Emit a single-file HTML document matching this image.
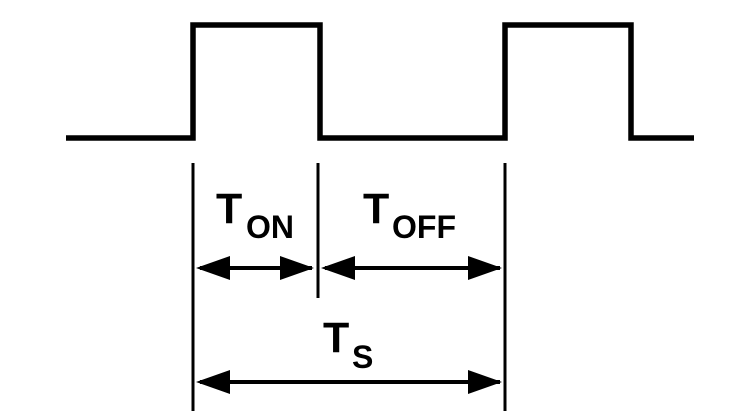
<!DOCTYPE html>
<html><head><meta charset="utf-8"><style>
html,body{margin:0;padding:0;background:#fff;width:752px;height:411px;overflow:hidden}
svg{display:block}
text{font-family:"Liberation Sans",Arial,sans-serif;font-weight:bold;fill:#000}
</style></head><body>
<svg width="752" height="411" viewBox="0 0 752 411">
<polyline fill="none" stroke="#000" stroke-width="5.5" stroke-linejoin="miter"
 points="66,138 193,138 193,25 320,25 320,138 505,138 505,25 631,25 631,138 694,138"/>
<line x1="193" y1="163" x2="193" y2="411" stroke="#000" stroke-width="3"/>
<line x1="318" y1="163" x2="318" y2="298" stroke="#000" stroke-width="3"/>
<line x1="505" y1="163" x2="505" y2="411" stroke="#000" stroke-width="3"/>
<g>
<line x1="200" y1="268" x2="312" y2="268" stroke="#000" stroke-width="4"/>
<polygon points="196,268 230,256 230,280" fill="#000"/>
<polygon points="314,268 280,256 280,280" fill="#000"/>
</g>
<g>
<line x1="325" y1="268" x2="500" y2="268" stroke="#000" stroke-width="4"/>
<polygon points="321,268 355,256 355,280" fill="#000"/>
<polygon points="502,268 468,256 468,280" fill="#000"/>
</g>
<g>
<line x1="200" y1="382" x2="500" y2="382" stroke="#000" stroke-width="4"/>
<polygon points="196,382 230,370 230,394" fill="#000"/>
<polygon points="502,382 468,370 468,394" fill="#000"/>
</g>
<text x="216" y="223" font-size="43">T<tspan x="246" y="238" font-size="32">ON</tspan></text>
<text x="363" y="223" font-size="43">T<tspan x="392" y="238" font-size="32">OFF</tspan></text>
<text x="323" y="352" font-size="43">T<tspan x="352" y="368" font-size="32">S</tspan></text>
</svg>
</body></html>
